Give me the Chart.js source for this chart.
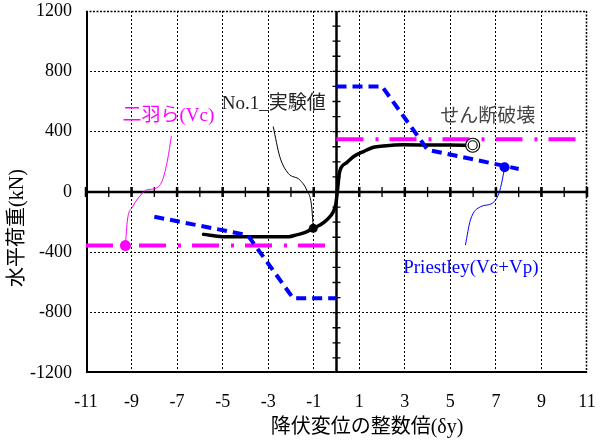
<!DOCTYPE html>
<html>
<head>
<meta charset="utf-8">
<script src="https://cdn.jsdelivr.net/npm/chart.js@4.4.1/dist/chart.umd.min.js"></script>
<style>
html,body{margin:0;padding:0;background:#fff;}
#wrap{width:604px;height:443px;}
</style>
</head>
<body>
<div id="wrap"><canvas id="c" width="604" height="443"></canvas></div>
<script>
// ---- data ----
const xTickValues = [-11,-9,-7,-5,-3,-1,1,3,5,7,9,11];
const yTickValues = [-1200,-800,-400,0,400,800,1200];

// No.1 experimental envelope
const expX = [-5.84,-5.0,-4.0,-3.0,-2.1,-1.75,-1.4,-1.02,-0.73,-0.43,-0.14,-0.03,0.05,0.12,0.2,0.45,0.74,1.18,1.62,2.05,2.93,4.0,5.0,5.9];
const expY = [-281,-296,-297,-297,-296,-284,-270,-241,-219,-186,-131,-80,20,120,160,195,234,268,297,305,313,312,311,310];

// Ninowa et al. (Vc)
const vcPosX = [0, 10.8];
const vcPosY = [350, 350];
const vcNegX = [-11, -0.3];
const vcNegY = [-355, -355];

// Priestley (Vc+Vp)
const prPosX = [0, 2.0, 4.0, 8.0];
const prPosY = [700, 700, 280, 153];
const prNegX = [-8.0, -3.9, -1.9, 0];
const prNegY = [-164, -286, -705, -705];

// markers
const vcMarker = [-9.27, -355];
const expMarker = [-1.02, -241];
const prMarker = [7.38, 164];
const shearMarker = [5.98, 310];

// leader curves
const vcLeadX = [-7.25,-7.42,-7.64,-7.9,-8.35,-8.52,-8.96,-9.18,-9.27];
const vcLeadY = [372,212,80,27,13,-7,-100,-186,-355];
const expLeadX = [-2.78,-2.49,-2.12,-1.61,-1.31,-1.09,-1.02];
const expLeadY = [434,234,124,80,13,-98,-241];
const prLeadX = [5.66,5.88,6.32,6.84,7.13,7.28,7.38];
const prLeadY = [-352,-186,-98,-75,-9,80,164];

// labels
const labelVc = '二羽ら(Vc)';
const labelExp = 'No.1_実験値';
const labelShear = 'せん断破壊';
const labelPr = 'Priestley(Vc+Vp)';
const xTitle = '降伏変位の整数倍(δy)';
const yTitle = '水平荷重(kN)';

const pts = (xs, ys) => xs.map((x, i) => ({x: x, y: ys[i]}));

const SERIF = '"Liberation Serif","Noto Sans CJK JP",serif';

const annotations = [
  {text: labelVc, x: -9.4, y: 505, color: '#ff00ff'},
  {text: labelExp, x: -5.04, y: 584, color: '#222222'},
  {text: labelShear, x: 4.56, y: 498, color: '#444444'},
  {text: labelPr, x: 2.93, y: -505, color: '#0000ff'}
];

const framePlugin = {
  id: 'frame',
  beforeDatasetsDraw(chart) {
    const {ctx, chartArea: a, scales: {x, y}} = chart;
    ctx.save();
    // border: top/right dotted, left/bottom solid
    ctx.strokeStyle = '#000';
    ctx.lineWidth = 1.5;
    ctx.setLineDash([2, 1.5]);
    ctx.beginPath();
    ctx.moveTo(a.left, a.top + 0.5); ctx.lineTo(a.right, a.top + 0.5);
    ctx.moveTo(a.right - 0.5, a.top); ctx.lineTo(a.right - 0.5, a.bottom);
    ctx.stroke();
    ctx.setLineDash([]);
    ctx.lineWidth = 2;
    ctx.beginPath();
    ctx.moveTo(a.left + 1, a.top); ctx.lineTo(a.left + 1, a.bottom);
    ctx.moveTo(a.left, a.bottom - 1); ctx.lineTo(a.right, a.bottom - 1);
    ctx.stroke();
    // zero axes
    const x0 = x.getPixelForValue(0);
    const y0 = y.getPixelForValue(0);
    ctx.lineWidth = 2.5;
    ctx.beginPath();
    ctx.moveTo(a.left, y0); ctx.lineTo(a.right, y0);
    ctx.moveTo(x0, a.top); ctx.lineTo(x0, a.bottom);
    ctx.stroke();
    ctx.lineWidth = 1.3;
    ctx.beginPath();
    for (let v = -10; v <= 10; v++) {
      const px = x.getPixelForValue(v);
      ctx.moveTo(px, y0 - 5); ctx.lineTo(px, y0 + 5);
    }
    for (let v = -1100; v <= 1100; v += 100) {
      if (v === 0) continue;
      const py = y.getPixelForValue(v);
      ctx.moveTo(x0 - 4, py); ctx.lineTo(x0 + 4, py);
    }
    ctx.stroke();
    ctx.lineWidth = 2.5;
    ctx.beginPath();
    for (const v of xTickValues) {
      const px = x.getPixelForValue(v);
      ctx.moveTo(px, y0 - 5); ctx.lineTo(px, y0 + 5);
    }
    ctx.stroke();
    ctx.restore();
  },
  afterDatasetsDraw(chart) {
    const {ctx, scales: {x, y}} = chart;
    ctx.save();
    ctx.font = '19px ' + SERIF;
    ctx.textBaseline = 'middle';
    ctx.textAlign = 'left';
    for (const an of annotations) {
      ctx.fillStyle = an.color;
      ctx.fillText(an.text, x.getPixelForValue(an.x), y.getPixelForValue(an.y));
    }
    // axis titles
    ctx.fillStyle = '#000';
    ctx.font = '20px ' + SERIF;
    ctx.textAlign = 'center';
    ctx.fillText(xTitle, 367, 428);
    ctx.translate(18, 228);
    ctx.rotate(-Math.PI / 2);
    ctx.fillText(yTitle, 0, 0);
    ctx.restore();
  }
};

const lead = (xs, ys, color) => ({
  data: pts(xs, ys), borderColor: color, borderWidth: 1, pointRadius: 0,
  showLine: true, fill: false, tension: 0.4, cubicInterpolationMode: 'monotone'
});

const datasets = [
  // markers on top
  {data: [{x: shearMarker[0], y: shearMarker[1]}], pointRadius: 4.5, pointBorderWidth: 1.2,
   pointBorderColor: '#000', pointBackgroundColor: 'rgba(0,0,0,0)', showLine: false},
  {data: [{x: shearMarker[0], y: shearMarker[1]}], pointRadius: 7, pointBorderWidth: 1.2,
   pointBorderColor: '#000', pointBackgroundColor: '#fff', showLine: false},
  {data: [{x: prMarker[0], y: prMarker[1]}], pointRadius: 5, pointBorderWidth: 0,
   pointBackgroundColor: '#0000ff', showLine: false},
  {data: [{x: expMarker[0], y: expMarker[1]}], pointRadius: 4.5, pointBorderWidth: 0,
   pointBackgroundColor: '#000', showLine: false},
  {data: [{x: vcMarker[0], y: vcMarker[1]}], pointRadius: 5.5, pointBorderWidth: 0,
   pointBackgroundColor: '#ff00ff', showLine: false},
  // leaders
  lead(vcLeadX, vcLeadY, '#ff00ff'),
  lead(expLeadX, expLeadY, '#000'),
  lead(prLeadX, prLeadY, '#0000ff'),
  // Priestley
  {data: pts(prPosX, prPosY), borderColor: '#0000ff', borderWidth: 4, borderDash: [10, 6],
   pointRadius: 0, showLine: true, tension: 0},
  {data: pts(prNegX, prNegY), borderColor: '#0000ff', borderWidth: 4, borderDash: [10, 6],
   pointRadius: 0, showLine: true, tension: 0},
  // Vc
  {data: pts(vcPosX, vcPosY), borderColor: '#ff00ff', borderWidth: 4, borderDash: [27, 12, 3, 11],
   pointRadius: 0, showLine: true, tension: 0},
  {data: pts(vcNegX, vcNegY), borderColor: '#ff00ff', borderWidth: 4, borderDash: [27, 12, 3, 11],
   pointRadius: 0, showLine: true, tension: 0},
  // experimental
  {data: pts(expX, expY), borderColor: '#000', borderWidth: 3.5, pointRadius: 0,
   showLine: true, cubicInterpolationMode: 'monotone', borderJoinStyle: 'round', borderCapStyle: 'round'}
];

new Chart(document.getElementById('c'), {
  type: 'scatter',
  data: {datasets: datasets},
  options: {
    responsive: false,
    animation: false,
    clip: false,
    layout: {padding: {left: 0, top: 11, right: 17, bottom: 0}},
    plugins: {legend: {display: false}, tooltip: {enabled: false}, title: {display: false}},
    scales: {
      x: {
        type: 'linear', min: -11, max: 11,
        afterBuildTicks: s => { s.ticks = xTickValues.map(v => ({value: v})); },
        afterFit: s => { s.height = 70; s.paddingLeft = 0; s.paddingRight = 0; },
        border: {display: false, dash: [2, 2]},
        grid: {
          drawTicks: false,
          color: c => (c.tick && (c.tick.value === -11 || c.tick.value === 11)) ? 'rgba(0,0,0,0)' : '#000',
          lineWidth: 1
        },
        ticks: {
          padding: 18, color: '#000', maxRotation: 0, autoSkip: false,
          font: {family: SERIF, size: 18},
          callback: v => String(v)
        }
      },
      y: {
        type: 'linear', min: -1200, max: 1200,
        afterBuildTicks: s => { s.ticks = yTickValues.map(v => ({value: v})); },
        afterFit: s => { s.width = 86; s.paddingTop = 0; s.paddingBottom = 0; },
        border: {display: false, dash: [2, 2]},
        grid: {
          drawTicks: false,
          color: c => (c.tick && (c.tick.value === 0 || Math.abs(c.tick.value) === 1200)) ? 'rgba(0,0,0,0)' : '#000',
          lineWidth: 1
        },
        ticks: {
          padding: 14, color: '#000', autoSkip: false,
          font: {family: SERIF, size: 18},
          callback: v => String(v)
        }
      }
    }
  },
  plugins: [framePlugin]
});
</script>
</body>
</html>
